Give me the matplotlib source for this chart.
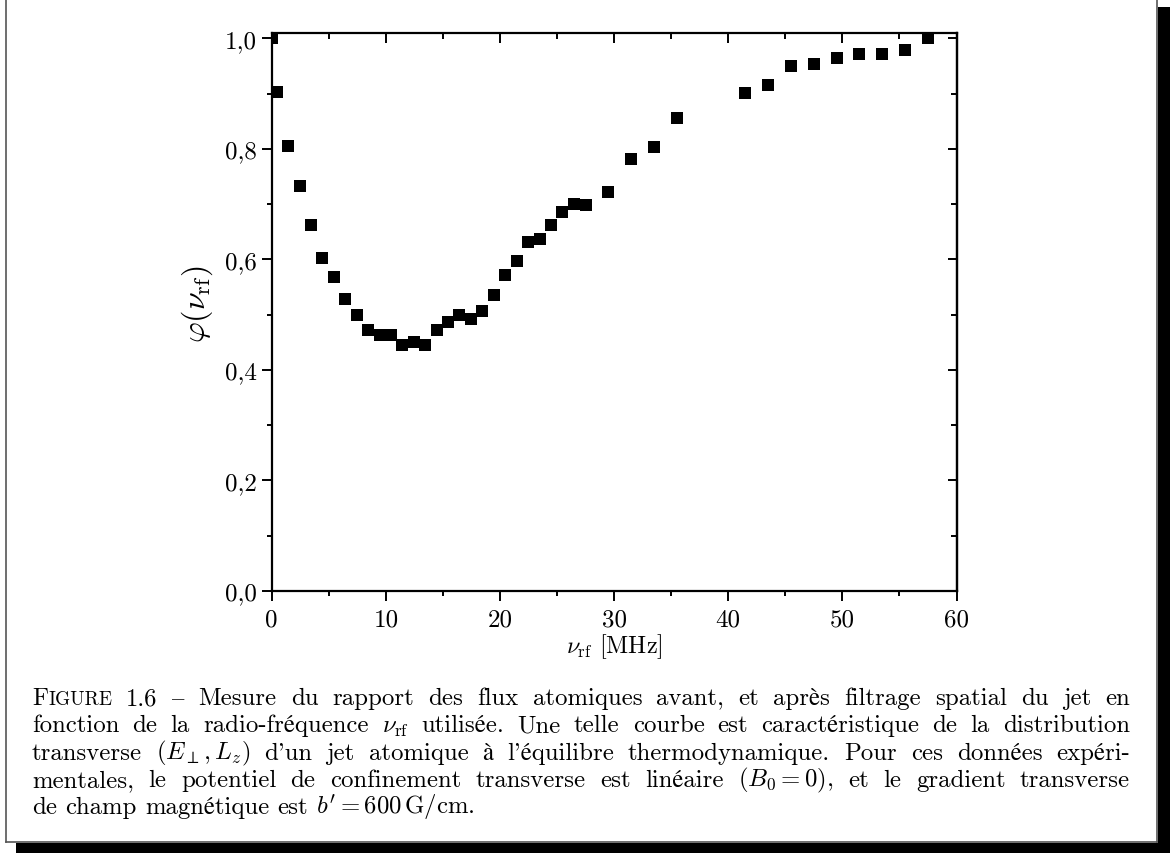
import matplotlib.pyplot as plt
from matplotlib.patches import Rectangle
from matplotlib.lines import Line2D
from matplotlib.ticker import MultipleLocator

plt.rcParams['font.family'] = ['cmr10', 'STIXGeneral']
plt.rcParams['mathtext.fontset'] = 'cm'
plt.rcParams['axes.formatter.use_mathtext'] = True

# measured points (radio frequency in MHz, flux ratio)
nu_rf = [0.0, 0.45, 1.45, 2.45, 3.45, 4.45, 5.45, 6.45, 7.45, 8.45, 9.45,
         10.45, 11.45, 12.45, 13.45, 14.45, 15.45, 16.45, 17.45, 18.45, 19.45,
         20.45, 21.45, 22.45, 23.5, 24.45, 25.45, 26.5, 27.5, 29.45, 31.5,
         33.5, 35.5, 41.5, 43.5, 45.5, 47.5, 49.5, 51.5, 53.5, 55.5, 57.5]
phi = [1.0, 0.903, 0.806, 0.732, 0.662, 0.603, 0.569, 0.529, 0.500, 0.472,
       0.463, 0.463, 0.445, 0.451, 0.445, 0.472, 0.486, 0.500, 0.493, 0.507,
       0.535, 0.572, 0.597, 0.631, 0.636, 0.662, 0.686, 0.701, 0.698, 0.722,
       0.781, 0.803, 0.855, 0.901, 0.916, 0.949, 0.954, 0.964, 0.971, 0.971,
       0.979, 1.000]

x_ticks = [0, 10, 20, 30, 40, 50, 60]
x_tick_labels = ['0', '10', '20', '30', '40', '50', '60']
y_ticks = [0.0, 0.2, 0.4, 0.6, 0.8, 1.0]
y_tick_labels = ['0,0', '0,2', '0,4', '0,6', '0,8', '1,0']

xlabel = r'$\nu_{\mathrm{rf}}$ [MHz]'
ylabel = r'$\varphi(\nu_{\mathrm{rf}})$'
caption_lines = [
    "FIGURE 1.6 – Mesure du rapport des flux atomiques avant, et après filtrage spatial du jet en",
    r"fonction de la radio-fréquence $\nu_{\mathrm{rf}}$ utilisée. Une telle courbe est caractéristique de la distribution",
    r"transverse $(E_\perp,L_z)$ d'un jet atomique à l'équilibre thermodynamique. Pour ces données expéri-",
    r"mentales, le potentiel de confinement transverse est linéaire $(B_0=0)$, et le gradient transverse",
    r"de champ magnétique est $b^{\prime}=600\,\mathrm{G}/\mathrm{cm}$.",
]

W, H = 1170, 854
fig = plt.figure(figsize=(W / 100, H / 100), dpi=100)
renderer = fig.canvas.get_renderer()


def fx(x):
    return x / W


def fy(y):
    return 1 - y / H


def width_of(t):
    return t.get_window_extent(renderer).width


def fit_size(s, target_px, base=10.0):
    t = fig.text(0, 0, s, fontsize=base)
    w = width_of(t)
    t.remove()
    return base * target_px / w


# page frame with shadow
fig.add_artist(Rectangle((fx(1158), fy(854)), fx(12), 846 / H, color='black', lw=0))
fig.add_artist(Rectangle((fx(16), fy(854)), fx(1154), 10 / H, color='black', lw=0))
for xs, ys in [([5.5, 5.5], [0, 843]), ([5.5, 1157], [843, 843]), ([1157, 1157], [0, 843])]:
    fig.add_artist(Line2D([fx(v) for v in xs], [fy(v) for v in ys], color='#555555', lw=1.2))

ax = fig.add_axes([fx(271.7), fy(592), fx(684.8), 558 / H])
ax.plot(nu_rf, phi, 's', color='black', ms=8, mew=0)
ax.set_xlim(0, 60)
ax.set_ylim(0, 1.0096)

for s in ax.spines.values():
    s.set_linewidth(1.6)

tick_size = 18
ax.set_xticks(x_ticks)
ax.set_xticklabels(x_tick_labels)
ax.set_yticks(y_ticks)
ax.set_yticklabels(y_tick_labels)
ax.xaxis.set_minor_locator(MultipleLocator(5))
ax.yaxis.set_minor_locator(MultipleLocator(0.1))
ax.tick_params(which='both', direction='out', width=1.4, labelsize=tick_size)
ax.tick_params(which='major', length=7.2)
ax.tick_params(which='minor', length=3.8)
ax.tick_params(axis='x', pad=5)
ax.tick_params(axis='y', pad=3.5)

top = ax.secondary_xaxis('top')
top.set_xticks(x_ticks)
top.xaxis.set_minor_locator(MultipleLocator(5))
top.tick_params(which='both', direction='in', width=1.4, labeltop=False)
top.tick_params(which='major', length=7.5)
top.tick_params(which='minor', length=4.2)
top.spines['top'].set_linewidth(1.2)

right = ax.secondary_yaxis('right')
right.set_yticks(y_ticks)
right.yaxis.set_minor_locator(MultipleLocator(0.1))
right.tick_params(which='both', direction='in', width=1.4, labelright=False)
right.tick_params(which='major', length=6.5)
right.tick_params(which='minor', length=4.2)
right.spines['right'].set_linewidth(1.6)

ax.set_xlabel(xlabel, fontsize=fit_size(xlabel, 98))
ax.xaxis.set_label_coords(0.5, -0.0717)
ax.xaxis.label.set_va('top')
ax.set_ylabel(ylabel, fontsize=fit_size(ylabel, 80))
ax.yaxis.set_label_coords(-0.083, 0.515)

# justified caption, word by word
cap_size = fit_size(caption_lines[-1], 445)
left, rightx = 32, 1130
baselines = [705, 732.3, 759.6, 786.9, 814.2]


def word_parts(w):
    if w == 'FIGURE':
        return [('F', cap_size), ('IGURE', cap_size * 0.78)]
    return [(w, cap_size)]


probe1 = fig.text(0, 0, 'aa', fontsize=cap_size)
probe2 = fig.text(0, 0, 'a a', fontsize=cap_size)
space_w = width_of(probe2) - width_of(probe1)
probe1.remove()
probe2.remove()

for i, line in enumerate(caption_lines):
    words = line.split(' ')
    placed = []
    total = 0
    for w in words:
        parts = []
        ww = 0
        for s, size in word_parts(w):
            t = fig.text(0, fy(baselines[i]), s, fontsize=size, va='baseline', ha='left')
            pw = width_of(t)
            parts.append((t, pw))
            ww += pw
        placed.append((parts, ww))
        total += ww
    if i < len(caption_lines) - 1:
        gap = (rightx - left - total) / (len(words) - 1)
    else:
        gap = space_w
    x = left
    for parts, ww in placed:
        xx = x
        for t, pw in parts:
            t.set_x(fx(xx))
            xx += pw
        x += ww + gap

fig.savefig('out.png', dpi=100)
